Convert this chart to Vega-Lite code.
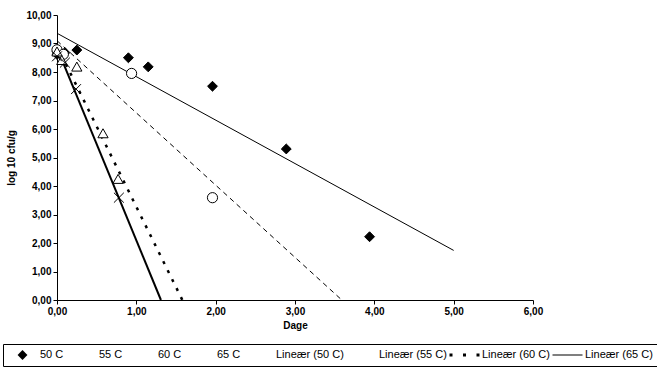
{
  "$schema": "https://vega.github.io/schema/vega-lite/v6.json",
  "width": 476,
  "height": 285,
  "autosize": "none",
  "padding": {"left": 57, "top": 15, "right": 124, "bottom": 71},
  "background": "white",
  "config": {
    "font": "Liberation Sans",
    "view": {"stroke": null},
    "axis": {
      "grid": false,
      "labelFlush": false,
      "domainColor": "black",
      "domainWidth": 1,
      "tickColor": "black",
      "tickSize": 4,
      "labelPadding": 2,
      "labelColor": "black",
      "labelFont": "Liberation Sans",
      "labelFontSize": 10,
      "labelFontWeight": "bold",
      "titleColor": "black",
      "titleFont": "Liberation Sans",
      "titleFontSize": 10,
      "titleFontWeight": "bold"
    },
    "legend": {
      "title": null,
      "orient": "none",
      "legendX": -54,
      "legendY": 329,
      "direction": "horizontal",
      "symbolSize": 900,
      "symbolStrokeWidth": 1,
      "symbolStrokeColor": "black",
      "symbolOpacity": 1,
      "labelFont": "Liberation Sans",
      "labelFontSize": 11,
      "labelColor": "black",
      "labelOffset": 2,
      "labelLimit": 200,
      "columnPadding": 2,
      "clipHeight": 14,
      "padding": 4,
      "strokeColor": "black",
      "fillColor": "white"
    }
  },
  "datasets": {
    "points": [
      {"series": "50 C", "x": 0, "y": 8.62},
      {"series": "50 C", "x": 0.02, "y": 8.68},
      {"series": "50 C", "x": 0.1, "y": 8.68},
      {"series": "50 C", "x": 0.25, "y": 8.77},
      {"series": "50 C", "x": 0.9, "y": 8.5},
      {"series": "50 C", "x": 1.15, "y": 8.18},
      {"series": "50 C", "x": 1.96, "y": 7.5},
      {"series": "50 C", "x": 2.89, "y": 5.3},
      {"series": "50 C", "x": 3.94, "y": 2.22},
      {"series": "55 C", "x": 0, "y": 8.78},
      {"series": "55 C", "x": 0.08, "y": 8.62},
      {"series": "55 C", "x": 0.94, "y": 7.95},
      {"series": "55 C", "x": 1.96, "y": 3.59},
      {"series": "60 C", "x": 0, "y": 8.72},
      {"series": "60 C", "x": 0.06, "y": 8.42},
      {"series": "60 C", "x": 0.25, "y": 8.19},
      {"series": "60 C", "x": 0.58, "y": 5.85},
      {"series": "60 C", "x": 0.77, "y": 4.25},
      {"series": "65 C", "x": 0, "y": 8.55},
      {"series": "65 C", "x": 0.1, "y": 8.33},
      {"series": "65 C", "x": 0.24, "y": 7.4},
      {"series": "65 C", "x": 0.78, "y": 3.59}
    ],
    "lines": [
      {"trend": "Lineær (50 C)", "x": 0, "y": 9.36},
      {"trend": "Lineær (50 C)", "x": 5, "y": 1.74},
      {"trend": "Lineær (55 C)", "x": 0, "y": 9.1},
      {"trend": "Lineær (55 C)", "x": 3.59, "y": 0},
      {"trend": "Lineær (60 C)", "x": 0, "y": 8.91},
      {"trend": "Lineær (60 C)", "x": 1.58, "y": 0},
      {"trend": "Lineær (65 C)", "x": 0, "y": 8.85},
      {"trend": "Lineær (65 C)", "x": 1.31, "y": 0}
    ]
  },
  "encoding": {
    "x": {
      "field": "x",
      "type": "quantitative",
      "scale": {"domain": [0, 6]},
      "axis": {
        "title": "Dage",
        "values": [0, 1, 2, 3, 4, 5, 6],
        "labelExpr": "replace(format(datum.value, '.2f'), '.', ',')",
        "titlePadding": 4
      }
    },
    "y": {
      "field": "y",
      "type": "quantitative",
      "scale": {"domain": [0, 10]},
      "axis": {
        "title": "log 10 cfu/g",
        "values": [0, 1, 2, 3, 4, 5, 6, 7, 8, 9, 10],
        "labelExpr": "replace(format(datum.value, '.2f'), '.', ',')",
        "titlePadding": 9
      }
    }
  },
  "layer": [
    {
      "data": {"name": "lines"},
      "transform": [{"filter": "datum.trend === 'Lineær (50 C)'"}],
      "mark": {"type": "line", "stroke": "black", "strokeWidth": 1}
    },
    {
      "data": {"name": "lines"},
      "transform": [{"filter": "datum.trend === 'Lineær (55 C)'"}],
      "mark": {"type": "line", "stroke": "black", "strokeWidth": 1, "strokeDash": [5, 4]}
    },
    {
      "data": {"name": "lines"},
      "transform": [{"filter": "datum.trend === 'Lineær (60 C)'"}],
      "mark": {"type": "line", "stroke": "black", "strokeWidth": 2.5, "strokeDash": [3, 7]}
    },
    {
      "data": {"name": "lines"},
      "transform": [{"filter": "datum.trend === 'Lineær (65 C)'"}],
      "mark": {"type": "line", "stroke": "black", "strokeWidth": 2}
    },
    {
      "data": {"name": "points"},
      "mark": {"type": "point", "filled": false, "stroke": "black", "strokeWidth": 1, "size": 900, "opacity": 1},
      "encoding": {
        "shape": {
          "field": "series",
          "type": "nominal",
          "scale": {
            "domain": ["50 C", "55 C", "60 C", "65 C", "Lineær (50 C)", "Lineær (55 C)", "Lineær (60 C)", "Lineær (65 C)"],
            "range": [
              "M-0.33,0L0,-0.33L0.33,0L0,0.33Z",
              "M0.34,0A0.34,0.34,0,1,1,-0.34,0A0.34,0.34,0,1,1,0.34,0Z",
              "M0,-0.3L0.34,0.3L-0.34,0.3Z",
              "M-0.33,-0.33L0.33,0.33M-0.33,0.33L0.33,-0.33",
              "M-1,0H1",
              "M-1,0H-0.6M-0.2,0H0.2M0.6,0H1",
              "M-1,-0.1H-0.8V0.1H-1ZM-0.1,-0.1H0.1V0.1H-0.1ZM0.8,-0.1H1V0.1H0.8Z",
              "M-1,-0.04H1V0.04H-1Z"
            ]
          }
        },
        "fill": {
          "field": "series",
          "type": "nominal",
          "scale": {
            "domain": ["50 C", "55 C", "60 C", "65 C", "Lineær (50 C)", "Lineær (55 C)", "Lineær (60 C)", "Lineær (65 C)"],
            "range": ["black", "white", "white", "white", "black", "black", "black", "black"]
          }
        }
      }
    }
  ]
}
